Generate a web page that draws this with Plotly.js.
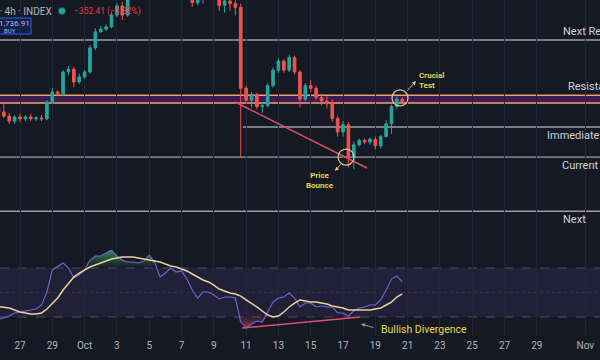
<!DOCTYPE html>
<html><head><meta charset="utf-8">
<script src="https://cdn.plot.ly/plotly-3.0.1.min.js"></script>
<style>html,body{margin:0;padding:0;background:#151924;}#chart{width:600px;height:360px;}</style>
</head><body><div id="chart"></div>
<script>
// 8-hour candles starting 2025-09-25 16:00 UTC
const startUTC = Date.UTC(2025, 8, 25, 16);
const opens = [110100,109700,109250,108700,109150,108950,109150,108950,109050,108950,110800,111900,111700,114100,114400,113000,113550,114100,116750,118500,118800,119050,120350,121350,120350,
 122550,122600,122400,122700,123800,124600,125000,124200,125800,124800,123800,122600,121700,122300,123200,123300,122500,121400,121900,121600,121200,
 112300,111000,111600,110300,110400,112600,114300,115300,114300,115700,114100,111100,112600,112300,111300,110900,110600,109000,107500,108300,104700,106100,106600,106400,106700,106000,107000,108400,110300,111100];
const highs = [110400,110580,109600,109350,109500,109350,109500,109250,109350,111000,112350,112100,114300,114750,114650,113900,114300,117050,118900,119150,119350,120700,121650,121800,123100,
 123200,122900,123000,124000,125000,125800,125400,126200,126000,125200,124000,122900,122600,123500,124000,123500,122800,122300,122400,122000,121600,
 112600,111900,111800,110800,112900,114600,115600,115500,116000,115900,114300,112900,113200,112600,111700,111400,111100,109300,108700,108600,106500,106800,106800,106900,107000,107200,108800,110500,111400,111300];
const lows = [109500,109050,108400,108400,108600,108700,108700,108700,108700,108800,110600,111450,111450,113750,112450,112800,113350,113900,116500,118400,118600,118900,120150,119800,120150,
 122200,122200,122200,122500,123400,124000,123500,124000,124500,123500,122300,121250,121400,121600,122600,122200,120800,120600,120800,120300,104700,
 110600,110200,110000,109600,110200,112400,114000,114000,114100,113800,110200,110900,111900,111000,110400,110100,108600,107000,107000,103600,103400,105900,106200,106100,105600,105700,106900,107300,110000,110500];
const closes = [109700,109250,108700,109150,108950,109150,108950,109050,108950,110800,111900,111700,114100,114400,113000,113550,114100,116750,118500,118800,119050,120350,121350,120350,122550,
 122600,122400,122700,123800,124600,125000,124200,125800,124800,123800,122600,121700,122300,123200,123300,122500,121400,121900,121600,121200,112300,
 111000,111600,110300,110400,112600,114300,115300,114300,115700,114100,111100,112600,112300,111300,110900,110600,109000,107500,108300,104700,106100,106600,106400,106700,106000,107000,108400,110300,111100,110800];
const rsi = [28.0,29.2,30.8,33.3,34.1,34.9,35.7,36.5,39.8,50.4,68.4,71.6,74.1,70.0,61.8,64.3,68.4,76.5,79.8,79.8,82.2,84.7,79.8,76.5,74.9,
 74.9,74.1,75.7,80.6,74.9,62.7,65.9,70.0,66.7,67.6,61.0,52.0,45.5,50.4,50.4,48.0,44.7,46.3,46.3,45.5,25.9,
 21.0,24.3,26.7,25.9,34.1,42.2,45.5,46.3,49.6,45.5,38.2,41.4,41.4,38.2,39.0,38.2,38.2,33.3,33.3,30.8,34.9,37.3,38.2,39.8,39.8,43.9,52.0,61.0,63.5,58.6];
const rsiMA = [38.5,38.2,37.3,35.7,34.1,33.3,32.5,32.5,33.3,36.5,40.6,45.5,52.0,57.8,62.7,65.9,68.4,70.8,72.4,74.1,75.7,77.3,78.2,79.0,79.0,
 79.0,78.2,77.3,76.5,75.7,74.9,73.3,71.6,70.8,69.2,67.6,65.1,62.7,60.2,58.6,56.1,52.8,51.2,49.6,48.8,47.1,
 43.9,41.4,38.2,34.9,31.6,30.0,30.8,34.1,38.2,41.4,43.9,43.1,42.2,42.2,41.4,40.6,39.0,38.2,37.3,35.7,35.7,35.7,35.7,35.7,36.5,37.3,39.8,42.2,46.3,48.8];
const times = opens.map((_, i) => new Date(startUTC + i * 8 * 3600e3).toISOString().slice(0, 16).replace('T', ' '));

const tickDates = ['2025-09-27','2025-09-29','2025-10-01','2025-10-03','2025-10-05','2025-10-07','2025-10-09','2025-10-11','2025-10-13','2025-10-15','2025-10-17','2025-10-19','2025-10-21','2025-10-23','2025-10-25','2025-10-27','2025-10-29','2025-11-01'];
const tickLabels = ['27','29','Oct','3','5','7','9','11','13','15','17','19','21','23','25','27','29','Nov'];

const levelNames = ['Next Resistance','Immediate','Current','Next'];
const levelPrices = [117600, 108050, 104750, 98800];
const levelStarts = ['2025-09-20', '2025-10-10 19:00', '2025-09-20', '2025-09-20'];
const zoneTop = 111550, zoneBottom = 110700;

const trendX = ['2025-10-10 07:30', '2025-10-18 11:40'];
const trendY = [110800, 103550];
const divX = ['2025-10-10 18:00', '2025-10-18 01:30'];
const divY = [21.0, 30.0];
const bounce = {t: '2025-10-17 04:30', p: 104750};
const crucial = {t: '2025-10-20 12:40', p: 111250};

const px = x => x / 600, py = y => 1 - y / 360;
const font = 'Roboto, "Noto Sans", sans-serif';

const traces = [
  {type: 'candlestick', x: times, open: opens, high: highs, low: lows, close: closes,
   increasing: {line: {color: '#26a69a', width: 1}, fillcolor: '#26a69a'},
   decreasing: {line: {color: '#ef5350', width: 1}, fillcolor: '#ef5350'},
   xaxis: 'x', yaxis: 'y', hoverinfo: 'skip', showlegend: false},
  {type: 'scatter', mode: 'lines', x: trendX, y: trendY, line: {color: '#e0506a', width: 1.5}, xaxis: 'x', yaxis: 'y', showlegend: false},
  {type: 'scatter', mode: 'lines', x: times, y: rsi.map(() => 70), line: {width: 0}, xaxis: 'x', yaxis: 'y2', showlegend: false},
  {type: 'scatter', mode: 'lines', x: times, y: rsi.map(v => Math.max(v, 70)), fill: 'tonexty',
   fillgradient: {type: 'vertical', start: 70, stop: 84, colorscale: [[0, 'rgba(60,160,90,0)'], [0.35, 'rgba(60,160,90,0.25)'], [1, 'rgba(60,170,95,0.75)']]},
   line: {width: 0}, xaxis: 'x', yaxis: 'y2', showlegend: false},
  {type: 'scatter', mode: 'lines', x: times, y: rsi.map(() => 30), line: {width: 0}, xaxis: 'x', yaxis: 'y2', showlegend: false},
  {type: 'scatter', mode: 'lines', x: times, y: rsi.map(v => Math.min(v, 30)), fill: 'tonexty',
   fillgradient: {type: 'vertical', start: 30, stop: 20, colorscale: [[0, 'rgba(230,70,110,0.1)'], [1, 'rgba(230,70,110,0.6)']]},
   line: {width: 0}, xaxis: 'x', yaxis: 'y2', showlegend: false},
  {type: 'scatter', mode: 'lines', x: times, y: rsi, line: {color: '#7463d6', width: 1.1}, xaxis: 'x', yaxis: 'y2', showlegend: false},
  {type: 'scatter', mode: 'lines', x: times, y: rsiMA, line: {color: '#e6d39c', width: 1.5}, xaxis: 'x', yaxis: 'y2', showlegend: false},
  {type: 'scatter', mode: 'lines', x: divX, y: divY, line: {color: '#e0506a', width: 1.5}, xaxis: 'x', yaxis: 'y2', showlegend: false}
];

const shapes = [
  {type: 'rect', xref: 'paper', x0: 0, x1: 1, yref: 'y2', y0: 30, y1: 70, fillcolor: 'rgba(126,87,194,0.13)', line: {width: 0}, layer: 'below'},
  {type: 'line', xref: 'paper', x0: 0, x1: 1, yref: 'y2', y0: 70, y1: 70, line: {color: 'rgba(140,140,160,0.45)', width: 1, dash: 'dash'}, layer: 'below'},
  {type: 'line', xref: 'paper', x0: 0, x1: 1, yref: 'y2', y0: 30, y1: 30, line: {color: 'rgba(140,140,160,0.45)', width: 1, dash: 'dash'}, layer: 'below'},
  {type: 'line', xref: 'paper', x0: 0, x1: 1, yref: 'y2', y0: 50, y1: 50, line: {color: 'rgba(140,140,160,0.15)', width: 1, dash: 'dot'}, layer: 'below'},
  {type: 'rect', xref: 'paper', x0: 0, x1: 1, yref: 'y', y0: zoneBottom, y1: zoneTop, fillcolor: '#3c1c50', line: {width: 0}, layer: 'below'},
  {type: 'line', xref: 'paper', x0: 0, x1: 1, yref: 'y', y0: zoneTop, y1: zoneTop, line: {color: '#f0a070', width: 1.5}, layer: 'below'},
  {type: 'line', xref: 'paper', x0: 0, x1: 1, yref: 'y', y0: zoneBottom, y1: zoneBottom, line: {color: '#f0a070', width: 1.5}, layer: 'below'},
  {type: 'circle', xref: 'x', yref: 'y', xsizemode: 'pixel', ysizemode: 'pixel', xanchor: bounce.t, yanchor: bounce.p, x0: -8, x1: 8, y0: -8, y1: 8, line: {color: '#d9c79a', width: 1.2}},
  {type: 'circle', xref: 'x', yref: 'y', xsizemode: 'pixel', ysizemode: 'pixel', xanchor: crucial.t, yanchor: crucial.p, x0: -8, x1: 8, y0: -8, y1: 8, line: {color: '#d9c79a', width: 1.2}},
  {type: 'rect', xref: 'paper', yref: 'paper', x0: px(-4), x1: px(31), y0: py(34), y1: py(18), fillcolor: 'rgba(25,35,80,0.7)', line: {color: '#2962ff', width: 1}},
  {type: 'circle', xref: 'paper', yref: 'paper', x0: px(59), x1: px(65), y0: py(14), y1: py(8), fillcolor: '#26a69a', line: {color: 'rgba(38,166,154,0.4)', width: 2}}
];
levelPrices.forEach((p, i) => shapes.push({type: 'line', xref: 'x', x0: levelStarts[i], x1: '2025-11-05', yref: 'y', y0: p, y1: p, line: {color: '#9b9ea8', width: 1.4}, layer: 'below'}));

const annotations = [];
const labelX = [561, 545, 560, 561];
const labelShift = [9, -8, -8, -8];
levelNames.forEach((n, i) => annotations.push({xref: 'paper', x: px(labelX[i]), xanchor: 'left', yref: 'y', y: levelPrices[i], yshift: labelShift[i], yanchor: 'middle', text: n, showarrow: false, font: {family: font, size: 11, color: '#d1d4dc'}}));
annotations.push({xref: 'paper', x: px(566), xanchor: 'left', yref: 'y', y: zoneTop, yshift: 9, yanchor: 'middle', text: 'Resistance', showarrow: false, font: {family: font, size: 11, color: '#d1d4dc'}});
annotations.push(
  {xref: 'paper', yref: 'paper', x: px(54), y: py(11), xanchor: 'right', yanchor: 'middle', text: 'Bitcoin / U.S. Dollar · 4h · INDEX', showarrow: false, font: {family: font, size: 10, color: '#b2b5be'}},
  {xref: 'paper', yref: 'paper', x: px(72), y: py(11), xanchor: 'left', yanchor: 'middle', text: '−352.41 (−0.32%)', showarrow: false, font: {family: font, size: 8.5, color: '#f23645'}},
  {xref: 'paper', yref: 'paper', x: px(14), y: py(23), xanchor: 'center', yanchor: 'middle', text: '1,736.91', showarrow: false, font: {family: font, size: 8, color: '#aab8ff'}},
  {xref: 'paper', yref: 'paper', x: px(10), y: py(30), xanchor: 'center', yanchor: 'middle', text: 'BUY', showarrow: false, font: {family: font, size: 6, color: '#aab8ff'}},
  {xref: 'paper', yref: 'paper', x: px(320), y: py(180), xanchor: 'center', yanchor: 'middle', text: 'Price<br>Bounce', showarrow: false, font: {family: font, size: 8, color: '#e8d44d', weight: 'bold'}},
  {xref: 'paper', yref: 'paper', x: px(417), y: py(81), xanchor: 'left', yanchor: 'middle', align: 'left', text: 'Crucial<br>Test', showarrow: false, font: {family: font, size: 8, color: '#e8d44d', weight: 'bold'}},
  {xref: 'paper', yref: 'paper', x: px(379), y: py(329), xanchor: 'left', yanchor: 'middle', text: 'Bullish Divergence', showarrow: false, font: {family: font, size: 10.5, color: '#e6d84f'}},
  {xref: 'paper', yref: 'paper', x: px(335), y: py(171), ax: 7, ay: -8, text: '', showarrow: true, arrowhead: 2, arrowsize: 0.8, arrowwidth: 1, arrowcolor: '#d9c79a'},
  {xref: 'paper', yref: 'paper', x: px(416), y: py(81), ax: -10, ay: 11, text: '', showarrow: true, arrowhead: 2, arrowsize: 0.8, arrowwidth: 1, arrowcolor: '#d9c79a'},
  {xref: 'paper', yref: 'paper', x: px(361), y: py(324), ax: 14, ay: 4, text: '', showarrow: true, arrowhead: 2, arrowsize: 0.8, arrowwidth: 1, arrowcolor: '#9a9a9a'}
);

const layout = {
  width: 600, height: 360, margin: {l: 0, r: 0, t: 0, b: 0},
  paper_bgcolor: '#151924', plot_bgcolor: '#151924', showlegend: false, hovermode: false,
  xaxis: {type: 'date', range: ['2025-09-25 18:17', '2025-11-01 21:50'], anchor: 'y2', tickvals: tickDates, ticktext: tickLabels,
          showgrid: true, gridcolor: '#232734', gridwidth: 1, zeroline: false, showline: false, ticks: '',
          tickfont: {family: font, size: 10, color: '#b2b5be'}, rangeslider: {visible: false}, ticklabelstandoff: 3},
  yaxis: {domain: [1 - 250 / 360, 1], range: [94550, 122000], visible: false, fixedrange: true},
  yaxis2: {domain: [25 / 360, 110 / 360], range: [15.31, 84.69], visible: false, fixedrange: true},
  shapes: shapes, annotations: annotations
};
Plotly.newPlot('chart', traces, layout, {displayModeBar: false, staticPlot: true});
</script></body></html>
